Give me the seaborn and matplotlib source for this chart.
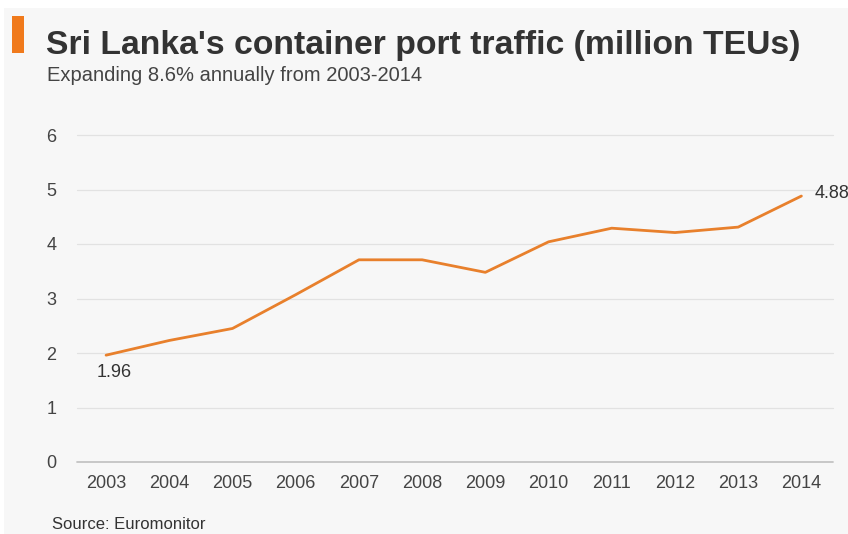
import matplotlib
matplotlib.use("Agg")
import matplotlib.pyplot as plt
import seaborn as sns
import pandas as pd
from matplotlib.patches import Rectangle

years = [2003, 2004, 2005, 2006, 2007, 2008, 2009, 2010, 2011, 2012, 2013, 2014]
teus = [1.96, 2.23, 2.45, 3.07, 3.71, 3.71, 3.48, 4.04, 4.29, 4.21, 4.31, 4.88]
y_ticks = [0, 1, 2, 3, 4, 5, 6]
title = "Sri Lanka's container port traffic (million TEUs)"
subtitle = "Expanding 8.6% annually from 2003-2014"
source = "Source: Euromonitor"

BG = "#f7f7f7"
ORANGE = "#e8802c"

sns.set_style("white", {"axes.facecolor": BG})
plt.rcParams["font.family"] = ["Liberation Sans", "DejaVu Sans"]

W, H = 848, 534
fig = plt.figure(figsize=(W / 100, H / 100), dpi=100, facecolor="white")
fig.patches.append(Rectangle((4 / W, 0), 1, 1 - 8 / H, transform=fig.transFigure,
                             facecolor=BG, edgecolor="none", zorder=-10))
fig.patches.append(Rectangle((12 / W, 1 - 53 / H), 12 / W, 37 / H, transform=fig.transFigure,
                             facecolor="#f07a1c", edgecolor="none", zorder=5))

ax = fig.add_axes([77 / W, 1 - 462 / H, (833 - 77) / W, (462 - 135) / H])
ax.set_facecolor(BG)

df = pd.DataFrame({"year": years, "teus": teus})
sns.lineplot(data=df, x="year", y="teus", ax=ax, color=ORANGE, linewidth=2.0, zorder=3)

ax.set_xlim(years[0] - 0.46, years[-1] + 0.5)
ax.set_ylim(0, 6)
ax.set_xticks(years)
ax.set_xticklabels([str(y) for y in years])
ax.set_yticks(y_ticks)
ax.set_yticklabels([str(t) for t in y_ticks])
for t in y_ticks[1:]:
    ax.axhline(t, color="#e2e2e2", lw=0.9, zorder=1, clip_on=False)
ax.axhline(0, color="#c4c4c4", lw=1.3, zorder=2, clip_on=False)
for s in ax.spines.values():
    s.set_visible(False)
ax.tick_params(axis="both", length=0, labelsize=13, colors="#444444")
ax.tick_params(axis="y", pad=15)
ax.tick_params(axis="x", pad=9)
ax.set_xlabel("")
ax.set_ylabel("")

ax.annotate(f"{teus[0]:.2f}", (years[0], teus[0]), xytext=(-6.5, -6.5), textcoords="offset points",
            ha="left", va="top", fontsize=13, color="#333333")
ax.annotate(f"{teus[-1]:.2f}", (years[-1], teus[-1]), xytext=(9.5, 2), textcoords="offset points",
            ha="left", va="center", fontsize=13, color="#333333", annotation_clip=False)

fig.text(46 / W, 1 - 54 / H, title, fontsize=24.3, fontweight="bold", color="#333333", va="baseline")
fig.text(47 / W, 1 - 81 / H, subtitle, fontsize=14.5, color="#444444", va="baseline")
fig.text(52 / W, 1 - 532 / H, source, fontsize=12, color="#333333", va="bottom")

fig.savefig("out.png", dpi=100, facecolor="white")
